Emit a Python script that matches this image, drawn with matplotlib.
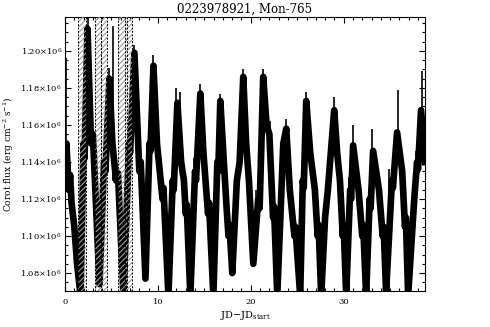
import numpy as np
import matplotlib
matplotlib.use("Agg")
import matplotlib.pyplot as plt
from matplotlib.ticker import MultipleLocator, FuncFormatter

# light curve: time (days) and flux (units of 1e6 erg cm^-2 s^-1)
t_days = [0.00, 0.15, 0.40, 0.55, 0.70, 1.00, 1.30, 1.67, 2.00, 2.10, 2.42, 2.80, 3.00,
          3.71, 4.20, 4.35, 4.78, 5.10, 5.50, 5.70, 6.29, 6.90, 7.00, 7.47, 8.00, 8.15,
          8.66, 9.10, 9.20, 9.52, 9.90, 10.2, 10.5, 10.6, 11.13, 11.60, 11.70, 12.10,
          12.50, 12.8, 13.0, 13.1, 13.49, 14.00, 14.10, 14.57, 14.9, 15.2, 15.4, 15.5,
          15.97, 16.40, 16.5, 16.72, 17.1, 17.4, 17.6, 17.7, 18.01, 18.5, 18.8, 19.19,
          19.5, 19.8, 20.27, 20.8, 20.95, 21.34, 21.7, 22.0, 22.4, 22.5, 22.85, 23.5,
          23.82, 24.2, 24.7, 24.8, 25.32, 25.6, 25.7, 25.97, 26.4, 26.9, 27.2, 27.3,
          27.58, 28.0, 28.3, 28.98, 29.3, 29.6, 29.9, 30.0, 30.27, 30.7, 30.8, 31.02,
          31.6, 32.0, 32.1, 32.42, 32.8, 32.9, 33.17, 33.8, 34.2, 34.3, 34.57, 35.2,
          35.3, 35.75, 36.3, 36.6, 36.7, 36.94, 37.6, 37.9, 38.0, 38.33, 38.76]
flux = [1.140, 1.150, 1.125, 1.133, 1.118, 1.105, 1.085, 1.068, 1.150, 1.142, 1.212, 1.150, 1.155,
        1.074, 1.140, 1.135, 1.185, 1.150, 1.130, 1.134, 1.068, 1.150, 1.145, 1.199, 1.135, 1.140,
        1.077, 1.150, 1.146, 1.192, 1.150, 1.135, 1.120, 1.126, 1.068, 1.130, 1.125, 1.172,
        1.140, 1.130, 1.112, 1.117, 1.068, 1.135, 1.130, 1.177, 1.145, 1.125, 1.112, 1.118,
        1.068, 1.140, 1.135, 1.173, 1.140, 1.115, 1.100, 1.106, 1.080, 1.130, 1.140, 1.186,
        1.150, 1.130, 1.085, 1.120, 1.115, 1.186, 1.160, 1.155, 1.110, 1.116, 1.068, 1.150,
        1.158, 1.125, 1.100, 1.105, 1.068, 1.130, 1.126, 1.173, 1.145, 1.125, 1.100, 1.106,
        1.068, 1.110, 1.125, 1.168, 1.145, 1.130, 1.100, 1.106, 1.068, 1.125, 1.120, 1.149,
        1.125, 1.100, 1.106, 1.068, 1.120, 1.115, 1.146, 1.125, 1.100, 1.105, 1.070, 1.130,
        1.126, 1.156, 1.135, 1.105, 1.110, 1.068, 1.120, 1.140, 1.136, 1.168, 1.140]

# narrow spikes above the envelope
spike_t = [0.10, 2.45, 4.75, 5.20, 7.45, 9.50, 12.00, 12.35, 14.50, 16.70, 19.15,
           21.30, 23.75, 25.95, 29.00, 31.00, 33.10, 35.80, 38.40,
           0.50, 10.30, 13.90, 17.30, 20.60, 22.10, 26.70, 30.60, 34.90, 37.80]
spike_base = [1.145, 1.205, 1.180, 1.130, 1.195, 1.188, 1.168, 1.160, 1.172, 1.168, 1.180,
              1.180, 1.155, 1.168, 1.163, 1.145, 1.142, 1.150, 1.162,
              1.128, 1.130, 1.128, 1.118, 1.112, 1.150, 1.130, 1.120, 1.122, 1.130]
spike_top = [1.196, 1.222, 1.191, 1.2136, 1.203, 1.198, 1.180, 1.178, 1.182, 1.177, 1.190,
             1.190, 1.163, 1.178, 1.175, 1.160, 1.158, 1.179, 1.189,
             1.140, 1.142, 1.142, 1.128, 1.125, 1.162, 1.142, 1.132, 1.136, 1.146]

# hatched intervals
band_start = [1.38, 3.28, 3.82, 5.68, 6.50]
band_end = [2.24, 3.82, 4.54, 6.69, 7.23]

plt.rcParams['font.family'] = ['DejaVu Serif']
plt.rcParams['mathtext.fontset'] = 'dejavuserif'
plt.rcParams['hatch.linewidth'] = 0.8

fig = plt.figure(figsize=(4.9, 3.27), dpi=100)
ax = fig.add_axes([0.1327, 0.110, 0.7347, 0.839])

ax.plot(t_days, np.array(flux) * 1e6, color='k', lw=4.8)
ax.vlines(spike_t, np.array(spike_base) * 1e6, np.array(spike_top) * 1e6, color='k', lw=1.2)

for s, e in zip(band_start, band_end):
    ax.axvspan(s, e, facecolor='none', edgecolor='0.6', hatch='//////', lw=0, zorder=3)
    ax.axvline(s, color='k', ls=(0, (2, 1.5)), lw=0.7, zorder=4)
    ax.axvline(e, color='k', ls=(0, (2, 1.5)), lw=0.7, zorder=4)

ax.set_xlim(0, 38.76)
ax.set_ylim(1.0703e6, 1.2185e6)

ax.xaxis.set_major_locator(MultipleLocator(10))
ax.xaxis.set_minor_locator(MultipleLocator(1))
ax.yaxis.set_major_locator(MultipleLocator(0.02e6))
ax.yaxis.set_minor_locator(MultipleLocator(0.005e6))
ax.yaxis.set_major_formatter(FuncFormatter(lambda v, p: "%.2f$\\times$10$^6$" % (v / 1e6)))

ax.tick_params(which='both', direction='in', top=True, right=True, labelsize=6, width=0.8)
ax.tick_params(which='major', length=4, pad=5)
ax.tick_params(which='minor', length=2)
ax.tick_params(axis='y', pad=2)
for sp in ax.spines.values():
    sp.set_linewidth(0.8)

ax.set_title("0223978921, Mon-765", fontsize=8.5, pad=3)
ax.set_xlabel(r"JD$-$JD$_{\mathrm{start}}$", fontsize=7, labelpad=2)
ax.set_ylabel(r"Corot flux (erg cm$^{-2}$ s$^{-1}$)", fontsize=6.5, labelpad=3)

fig.savefig("out.png", dpi=100)
